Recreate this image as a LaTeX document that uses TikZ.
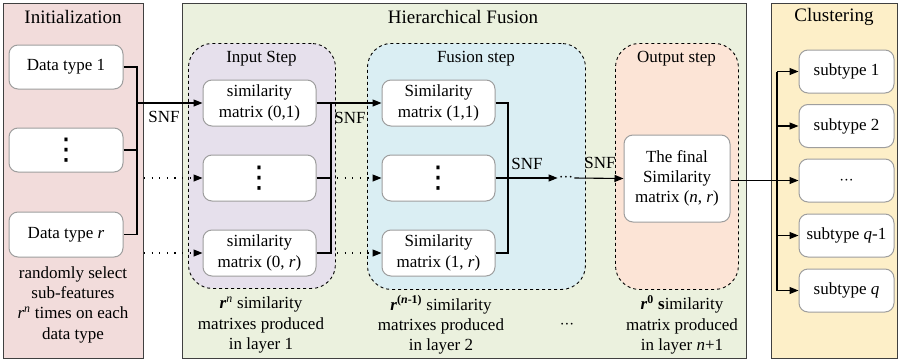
\documentclass[tikz,border=0pt]{standalone}
\usepackage{fontspec}
\setmainfont{Liberation Serif}
\newfontfamily\symfont{DejaVu Sans}
\usetikzlibrary{arrows.meta}
\definecolor{initbg}{HTML}{F2DCDB}
\definecolor{fusebg}{HTML}{EBF1DE}
\definecolor{clustbg}{HTML}{FDEFC8}
\definecolor{inputbg}{HTML}{E6E0EC}
\definecolor{stepbg}{HTML}{DAEEF3}
\definecolor{outbg}{HTML}{FCE4D6}
\newcommand{\bigvdots}{{\symfont\fontsize{30}{30}\selectfont ⋮}}
\newcommand{\tightdots}{$\cdotp\!\cdotp\!\cdotp$}
\begin{document}
\begin{tikzpicture}[x=1pt,y=-1pt,
  font=\fontsize{17}{20.3}\selectfont,
  panel/.style={draw=black!75, line width=1pt, inner sep=0pt, anchor=north west},
  stage/.style={draw=black, dashed, line width=0.9pt, rounded corners=24pt, inner sep=0pt, anchor=north west},
  box/.style={draw=black!38, fill=white, rounded corners=9pt, line width=1pt, align=center, inner sep=1pt},
  heading/.style={font=\fontsize{19}{22}\selectfont},
  sub/.style={font=\fontsize{17}{20.3}\selectfont},
  note/.style={align=center, inner sep=0pt},
  link/.style={line width=1.1pt},
  arr/.style={link, -{Triangle[length=9pt,width=7pt]}},
  dotlink/.style={line width=1.1pt, dash pattern=on 1.1pt off 6.5pt, -{Triangle[length=9pt,width=7pt]}},
]
\useasboundingbox (0,0) rectangle (900,362);

% panels
\node[panel, fill=initbg, minimum width=140pt, minimum height=355pt] (pinit) at (3,3) {};
\node[panel, fill=fusebg, minimum width=564pt, minimum height=355pt] (pfuse) at (182,3) {};
\node[panel, fill=clustbg, minimum width=126pt, minimum height=355pt] (pclust) at (771,3) {};
\node[heading] (tinit) at (73,17) {Initialization};
\node[heading] (tfuse) at (463,17) {Hierarchical Fusion};
\node[heading] (tclust) at (834,17) {Clustering};

% dashed stages
\node[stage, fill=inputbg, minimum width=147pt, minimum height=245pt] (sin) at (188,43) {};
\node[stage, fill=stepbg, minimum width=218pt, minimum height=246pt] (sfu) at (367,43) {};
\node[stage, fill=outbg, minimum width=123pt, minimum height=246pt] (sout) at (615,43) {};
\node[sub] (tin) at (261.5,59) {Input Step};
\node[sub] (tfu) at (476,59) {Fusion step};
\node[sub] (tout) at (676.5,59) {Output step};

% data types
\node[box, minimum width=114pt, minimum height=44pt] (d1) at (66,67) {Data type 1};
\node[box, minimum width=114pt, minimum height=44pt] (dd) at (66,150) {\bigvdots};
\node[box, minimum width=114pt, minimum height=45pt] (dr) at (66,234.5) {Data type \textit{r}};

% input similarity matrices
\node[box, minimum width=113pt, minimum height=46pt] (i1) at (259.5,103) {similarity\\matrix (0,1)};
\node[box, minimum width=113pt, minimum height=46pt] (i2) at (259.5,178) {\bigvdots};
\node[box, minimum width=113pt, minimum height=46pt] (i3) at (259.5,253) {similarity\\matrix (0, \textit{r})};

% fusion similarity matrices
\node[box, minimum width=113pt, minimum height=46pt] (f1) at (438.5,103) {Similarity\\matrix (1,1)};
\node[box, minimum width=113pt, minimum height=46pt] (f2) at (438.5,178) {\bigvdots};
\node[box, minimum width=113pt, minimum height=46pt] (f3) at (438.5,253) {Similarity\\matrix (1, \textit{r})};

% final matrix
\node[box, minimum width=106pt, minimum height=87pt] (fin) at (677,178.5) {The final\\Similarity\\matrix (\textit{n}, \textit{r})};

% subtypes
\node[box, minimum width=95pt, minimum height=43pt] (c1) at (846.5,71.5) {subtype 1};
\node[box, minimum width=95pt, minimum height=43pt] (c2) at (846.5,126) {subtype 2};
\node[box, minimum width=95pt, minimum height=43pt] (c3) at (846.5,180.5) {\tightdots};
\node[box, minimum width=95pt, minimum height=43pt] (c4) at (846.5,235.5) {subtype \textit{q}-1};
\node[box, minimum width=95pt, minimum height=43pt] (c5) at (846.5,290.5) {subtype \textit{q}};

% junction points
\coordinate (jA) at (137,103);
\coordinate (jB) at (331,103);
\coordinate (jC) at (508,178);
\coordinate (jD) at (777,180.5);

% initialization -> input step
\draw[link] (d1.east) -- (d1.east -| jA) -- (dr.east -| jA) -- (dr.east);
\draw[link] (dd.east) -- (dd.east -| jA);
\draw[arr] (jA) -- (i1.west);
\node[sub] (snf1) at (164,117) {SNF};
\draw[dotlink] (pinit.east |- i2) -- (i2.west);
\draw[dotlink] (pinit.east |- i3) -- (i3.west);

% input step -> fusion step
\draw[link] (i1.east) -- (i1.east -| jB) -- (i3.east -| jB) -- (i3.east);
\draw[link] (i2.east) -- (i2.east -| jB);
\draw[arr] (jB) -- (f1.west);
\node[sub] (snf2) at (350,118) {SNF};
\draw[dotlink] (jB |- f2) ++(6,0) -- (f2.west);
\draw[dotlink] (jB |- f3) ++(6,0) -- (f3.west);

% fusion step -> output step
\draw[link] (f1.east) -- (f1.east -| jC) -- (f3.east -| jC) -- (f3.east);
\draw[link] (f2.east) -- (jC);
\node[inner sep=1pt] (more) at (566,178) {\tightdots};
\draw[arr] (jC) -- (more.west);
\node[sub] (snf3) at (527,164) {SNF};
\draw[arr] (more.east) -- (fin.west);
\node[sub] (snf4) at (600,163) {SNF};

% output -> clustering
\draw[link] (fin.east |- jD) -- (jD);
\draw[link] (c1.west -| jD) -- (c5.west -| jD);
\foreach \c in {c1,c2,c3,c4,c5}
  \draw[arr] (\c.west -| jD) -- (\c.west);

% notes
\node[note] (ninit) at (73,304.5) {randomly select\\sub-features\\\textit{r\textsuperscript{n}} times on each\\data type};
\node[note] (nin) at (261,325) {\textbf{\textit{r}}\textsuperscript{\textit{n}} similarity\\matrixes produced\\in layer 1};
\node[note] (nfu) at (441,325) {\textbf{\textit{r}\textsuperscript{(\textit{n}-1)}} similarity\\matrixes produced\\in layer 2};
\node[note] (nmore) at (567,325) {\tightdots};
\node[note] (nout) at (682,325) {\textbf{\textit{r}\textsuperscript{0} s}imilarity\\matrix produced\\in layer \textit{n}+1};
\end{tikzpicture}
\end{document}
